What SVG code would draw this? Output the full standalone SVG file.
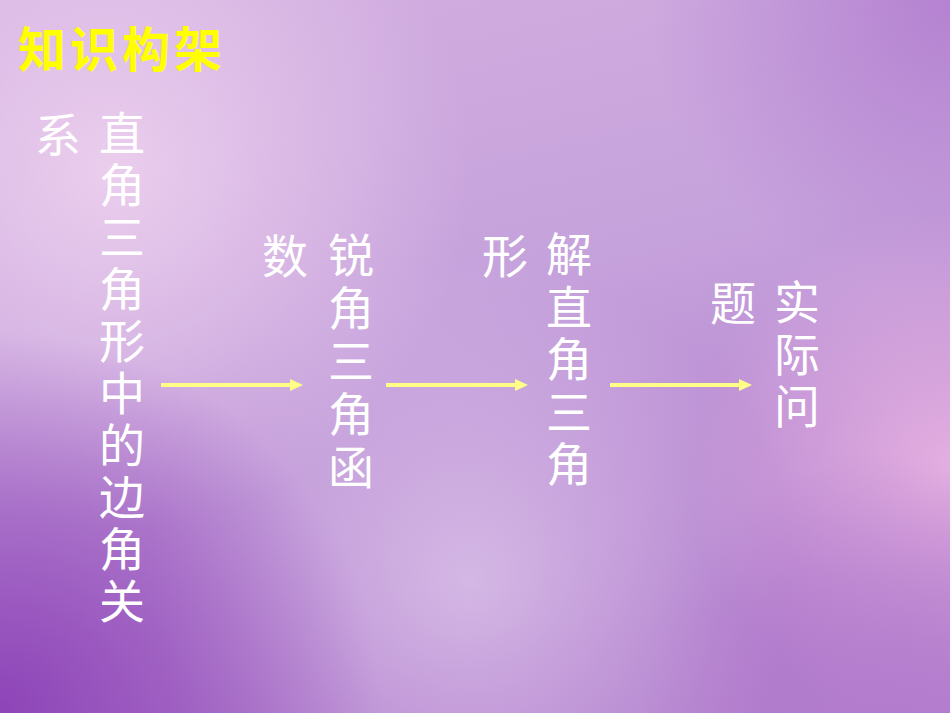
<svg xmlns="http://www.w3.org/2000/svg" width="950" height="713" viewBox="0 0 950 713">
<defs>
<style>
.t{font-family:"Noto Sans CJK SC","Noto Sans CJK JP",sans-serif;font-size:46px;fill:#ffffff;text-anchor:middle}
.v{font-family:"Noto Sans CJK SC","Noto Sans CJK JP",sans-serif;font-size:46px;fill:#ffffff;writing-mode:vertical-rl;text-anchor:start}
.title{font-family:"Noto Sans CJK SC",sans-serif;font-size:48px;font-weight:bold;fill:#ffff00;letter-spacing:4px}
.arr{stroke:#ffff88;stroke-width:4;fill:none}
.head{fill:#ffff88}
</style>
<linearGradient id="base" x1="0" y1="0" x2="0.3" y2="1">
<stop offset="0" stop-color="#d2aee0"/>
<stop offset="0.5" stop-color="#c6a2dc"/>
<stop offset="1" stop-color="#b07ccc"/>
</linearGradient>
<radialGradient id="tl" cx="110" cy="170" r="360" gradientUnits="userSpaceOnUse">
<stop offset="0" stop-color="#f0d4f0" stop-opacity="0.85"/>
<stop offset="1" stop-color="#f0d4f0" stop-opacity="0"/>
</radialGradient>
<radialGradient id="bc" cx="470" cy="580" r="320" gradientUnits="userSpaceOnUse">
<stop offset="0" stop-color="#dcc4ea" stop-opacity="0.8"/>
<stop offset="1" stop-color="#dcc4ea" stop-opacity="0"/>
</radialGradient>
<radialGradient id="bl" cx="0" cy="713" r="380" gradientUnits="userSpaceOnUse">
<stop offset="0" stop-color="#8e44b8" stop-opacity="1"/>
<stop offset="1" stop-color="#8e44b8" stop-opacity="0"/>
</radialGradient>
<radialGradient id="rr" cx="950" cy="470" r="260" gradientUnits="userSpaceOnUse">
<stop offset="0" stop-color="#eab4e2" stop-opacity="0.9"/>
<stop offset="1" stop-color="#eab4e2" stop-opacity="0"/>
</radialGradient>
<radialGradient id="tr" cx="950" cy="0" r="300" gradientUnits="userSpaceOnUse">
<stop offset="0" stop-color="#b27ed0" stop-opacity="0.9"/>
<stop offset="1" stop-color="#b27ed0" stop-opacity="0"/>
</radialGradient>
<radialGradient id="br" cx="900" cy="713" r="260" gradientUnits="userSpaceOnUse">
<stop offset="0" stop-color="#b47cce" stop-opacity="0.9"/>
<stop offset="1" stop-color="#b47cce" stop-opacity="0"/>
</radialGradient>
</defs>
<g id="background">
<rect width="950" height="713" fill="url(#base)"/>
<rect width="950" height="713" fill="url(#tr)"/>
<rect width="950" height="713" fill="url(#tl)"/>
<rect width="950" height="713" fill="url(#bc)"/>
<rect width="950" height="713" fill="url(#rr)"/>
<rect width="950" height="713" fill="url(#br)"/>
<rect width="950" height="713" fill="url(#bl)"/>
</g>
<g id="title"><text class="title" x="18" y="67">知识构架</text></g>
<g id="node1">
<text class="t" x="58" y="152">系</text>
<text class="v" x="122" y="110" letter-spacing="6">直角三角形中的边角关</text>
</g>
<g id="node2">
<text class="t" x="285" y="273">数</text>
<text class="v" x="351" y="232" letter-spacing="7">锐角三角函</text>
</g>
<g id="node3">
<text class="t" x="505" y="273">形</text>
<text class="v" x="569" y="231" letter-spacing="6.5">解直角三角</text>
</g>
<g id="node4">
<text class="t" x="733" y="320">题</text>
<text class="v" x="797" y="279" letter-spacing="6">实际问</text>
</g>
<g id="connectors">
<line class="arr" x1="161" y1="385" x2="292" y2="385"/><polygon class="head" points="290,379 303,385 290,391"/>
<line class="arr" x1="386" y1="385" x2="517" y2="385"/><polygon class="head" points="515,379 528,385 515,391"/>
<line class="arr" x1="610" y1="385" x2="741" y2="385"/><polygon class="head" points="739,379 752,385 739,391"/>
</g>
</svg>
